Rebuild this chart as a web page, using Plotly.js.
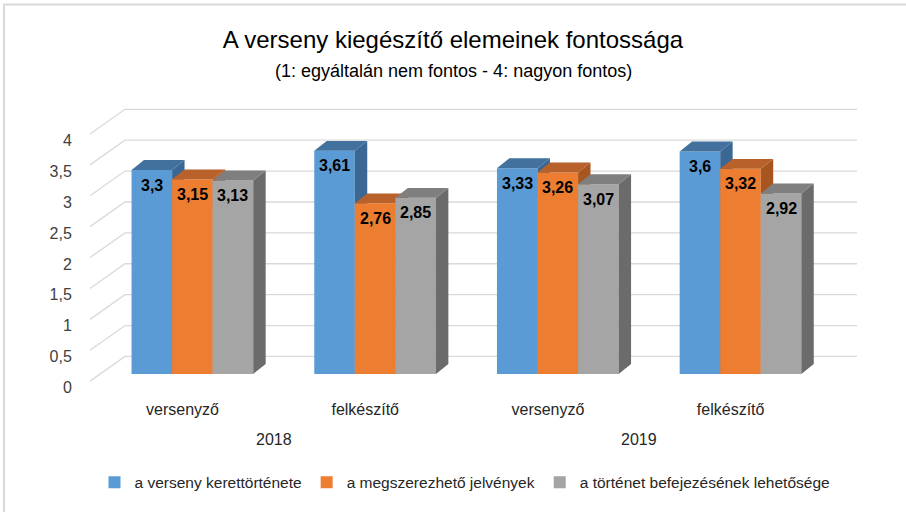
<!DOCTYPE html>
<html>
<head>
<meta charset="utf-8">
<script src="https://cdn.plot.ly/plotly-3.0.1.min.js"></script>
<style>html,body{margin:0;padding:0;background:#fff;}#chart{width:906px;height:512px;}</style>
</head>
<body>
<div id="chart"></div>
<script>
// ---- data ----
const categories = ['versenyző', 'felkészítő', 'versenyző', 'felkészítő'];
const years = ['2018', '2019'];
const seriesNames = ['a verseny kerettörténete', 'a megszerezhető jelvények', 'a történet befejezésének lehetősége'];
const kerettortenet = [3.3, 3.61, 3.33, 3.6];
const jelvenyek = [3.15, 2.76, 3.26, 3.32];
const befejezes = [3.13, 2.85, 3.07, 2.92];
const yTicks = [0, 0.5, 1, 1.5, 2, 2.5, 3, 3.5, 4];
const yTickLabels = ['0', '0,5', '1', '1,5', '2', '2,5', '3', '3,5', '4'];

// ---- styling / geometry ----
const FONT = 'Liberation Sans, Arial, sans-serif';
const frontColors = ['#5B9BD5', '#ED7D31', '#A5A5A5'];
const topColors = ['#41719C', '#B8612A', '#7F7F7F'];
const sideColors = ['#3A6793', '#A8561F', '#6B6B6B'];
const PT = 108, PB = 394, PH = PB - PT; // plot area top / bottom (px)
const XR = [-0.5605, 3.6377];
const YR = [-0.2605, 4.3035];
const BW = 0.222;      // bar width (x units)
const DX = 0.068;      // depth offset x
const DY = 0.16;       // depth offset y
const WALL_X = -0.369; // back wall left edge
const WALL_DY = 0.2825;
const FRONT_DY = -0.117;
const LABEL_DY = -0.22;
const CAT_DX = -0.054;

const series = [kerettortenet, jelvenyek, befejezes];
const groupIdx = categories.map((c, i) => i);
const fmt = v => String(v).replace('.', ',');
const py = px => (PB - px) / PH; // pixel row -> paper y

const traces = [];
// gridlines on back wall + floor diagonals (base subplot)
const gx = [], gy = [];
yTicks.forEach(v => {
  gx.push(XR[0], WALL_X, XR[1], null);
  gy.push(v + FRONT_DY, v + WALL_DY, v + WALL_DY, null);
});
traces.push({type: 'scatter', mode: 'lines', x: gx, y: gy, xaxis: 'x', yaxis: 'y',
  line: {color: '#D9D9D9', width: 1.3}, hoverinfo: 'skip', showlegend: false, cliponaxis: false});

const annotations = [];
series.forEach((vals, s) => {
  const ax = 'x' + (s + 2), ay = 'y' + (s + 2);
  const xs = groupIdx.map(g => g + (s - 1) * BW);
  traces.push({type: 'bar', x: xs, y: vals, width: BW, name: seriesNames[s],
    xaxis: ax, yaxis: ay, marker: {color: frontColors[s], line: {width: 0}},
    hoverinfo: 'skip'});
  const sx = [], sy = [], tx = [], ty = [];
  xs.forEach((x, i) => {
    const v = vals[i], xl = x - BW / 2, xr = x + BW / 2;
    sx.push(xr, xr + DX, xr + DX, xr, null);
    sy.push(0, DY, v + DY, v, null);
    tx.push(xl, xl + DX, xr + DX, xr, null);
    ty.push(v, v + DY, v + DY, v, null);
    annotations.push({x: x, y: v, xref: ax, yref: ay, yshift: -15, showarrow: false,
      text: '<b>' + fmt(v) + '</b>', font: {family: FONT, size: 16, color: '#000'}});
  });
  traces.push({type: 'scatter', mode: 'lines', x: sx, y: sy, fill: 'toself', fillcolor: sideColors[s],
    line: {width: 0, color: sideColors[s]}, xaxis: ax, yaxis: ay, hoverinfo: 'skip', showlegend: false, cliponaxis: false});
  traces.push({type: 'scatter', mode: 'lines', x: tx, y: ty, fill: 'toself', fillcolor: topColors[s],
    line: {width: 0, color: topColors[s]}, xaxis: ax, yaxis: ay, hoverinfo: 'skip', showlegend: false, cliponaxis: false});
});

// year labels
years.forEach((yr, k) => {
  annotations.push({x: (groupIdx[2 * k] + groupIdx[2 * k + 1]) / 2 + CAT_DX, y: py(444), xref: 'x', yref: 'paper',
    yanchor: 'middle', showarrow: false, text: yr, font: {family: FONT, size: 16, color: '#262626'}});
});
// subtitle
annotations.push({x: (453 - 90) / 767, xref: 'paper', xanchor: 'center', y: py(70), yref: 'paper', yanchor: 'middle',
  showarrow: false, text: '(1: egyáltalán nem fontos - 4: nagyon fontos)', font: {family: FONT, size: 18, color: '#000'}});

const hidden = {range: XR, visible: false, fixedrange: true};
const hiddenY = {range: YR, visible: false, fixedrange: true};
const layout = {
  width: 906, height: 512,
  margin: {l: 90, r: 49, t: PT, b: 512 - PB},
  paper_bgcolor: '#fff', plot_bgcolor: 'rgba(0,0,0,0)',
  separators: ', ',
  showlegend: true,
  title: {text: 'A verseny kiegészítő elemeinek fontossága', x: 453 / 906, xanchor: 'center', y: 1 - 40 / 512, yanchor: 'middle',
    font: {family: FONT, size: 24, color: '#000'}},
  xaxis: {range: XR, tickvals: groupIdx.map(g => g + CAT_DX), ticktext: categories, showgrid: false, zeroline: false,
    showline: false, ticks: 'outside', ticklen: 5, tickcolor: 'rgba(0,0,0,0)', fixedrange: true,
    tickfont: {family: FONT, size: 16, color: '#262626'}},
  yaxis: {range: YR, tickvals: yTicks.map(v => v + LABEL_DY), ticktext: yTickLabels, showgrid: false, zeroline: false,
    showline: false, ticks: 'outside', ticklen: 14, tickcolor: 'rgba(0,0,0,0)', fixedrange: true,
    tickfont: {family: FONT, size: 16, color: '#404040'}},
  xaxis2: Object.assign({overlaying: 'x'}, hidden), yaxis2: Object.assign({overlaying: 'y'}, hiddenY),
  xaxis3: Object.assign({overlaying: 'x'}, hidden), yaxis3: Object.assign({overlaying: 'y'}, hiddenY),
  xaxis4: Object.assign({overlaying: 'x'}, hidden), yaxis4: Object.assign({overlaying: 'y'}, hiddenY),
  legend: {orientation: 'h', x: (465 - 90) / 767, xanchor: 'center', y: py(488), yanchor: 'middle',
    font: {family: FONT, size: 15.5, color: '#262626'}, traceorder: 'normal', itemwidth: 30},
  annotations: annotations,
  shapes: [{type: 'rect', xref: 'paper', yref: 'paper', x0: (4 - 90) / 767, x1: (930 - 90) / 767,
    y0: py(540), y1: py(3), line: {color: '#D9D9D9', width: 2}, fillcolor: 'rgba(0,0,0,0)', layer: 'below'}]
};
Plotly.newPlot('chart', traces, layout, {displayModeBar: false, staticPlot: true});
</script>
</body>
</html>
